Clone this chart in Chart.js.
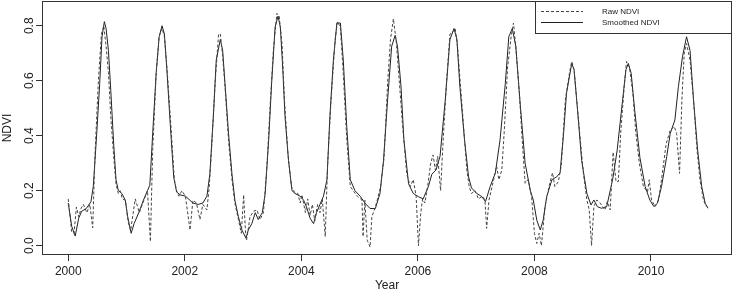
<!DOCTYPE html>
<html><head><meta charset="utf-8">
<script src="https://cdn.jsdelivr.net/npm/chart.js@4/dist/chart.umd.min.js"></script>
<style>html,body{margin:0;padding:0;background:#fff}#wrap{width:734px;height:293px}</style>
</head><body><div id="wrap"><canvas id="c" width="734" height="293"></canvas></div>
<script>
const seriesNames = ["Raw NDVI", "Smoothed NDVI"];
const xTickValues = [2000, 2002, 2004, 2006, 2008, 2010];
const yTickValues = [0.0, 0.2, 0.4, 0.6, 0.8];

const smoothT = [2000.00,2000.06,2000.12,2000.18,2000.23,2000.31,2000.39,2000.43,2000.49,2000.54,2000.58,2000.62,2000.65,2000.69,2000.73,2000.78,2000.82,2000.86,2000.92,2000.98,
2001.02,2001.08,2001.13,2001.21,2001.29,2001.36,2001.40,2001.45,2001.51,2001.56,2001.61,2001.65,2001.69,2001.75,2001.81,2001.86,2001.92,
2002.01,2002.09,2002.14,2002.23,2002.31,2002.38,2002.43,2002.49,2002.54,2002.61,2002.65,2002.69,2002.75,2002.81,2002.86,2002.92,2002.98,
2003.05,2003.09,2003.15,2003.21,2003.26,2003.33,2003.38,2003.44,2003.49,2003.55,2003.60,2003.64,2003.68,2003.72,2003.78,2003.84,2003.89,2003.98,
2004.04,2004.09,2004.15,2004.21,2004.26,2004.32,2004.38,2004.44,2004.49,2004.55,2004.61,2004.67,2004.72,2004.78,2004.84,2004.92,
2005.01,2005.09,2005.18,2005.27,2005.35,2005.41,2005.48,2005.55,2005.61,2005.65,2005.71,2005.76,2005.84,2005.92,
2006.01,2006.09,2006.18,2006.24,2006.31,2006.38,2006.47,2006.55,2006.62,2006.67,2006.72,2006.80,2006.87,2006.92,
2007.01,2007.10,2007.16,2007.24,2007.33,2007.41,2007.50,2007.56,2007.62,2007.68,2007.75,2007.84,2007.93,2007.98,
2008.04,2008.10,2008.15,2008.21,2008.30,2008.38,2008.44,2008.50,2008.55,2008.64,2008.68,2008.74,2008.81,2008.90,2008.97,
2009.02,2009.08,2009.15,2009.24,2009.30,2009.35,2009.42,2009.50,2009.57,2009.61,2009.66,2009.72,2009.81,2009.90,2009.98,
2010.05,2010.11,2010.18,2010.27,2010.33,2010.41,2010.47,2010.54,2010.61,2010.67,2010.73,2010.80,2010.87,2010.93,2010.98];
const smoothV = [0.155,0.07,0.035,0.10,0.125,0.135,0.16,0.215,0.41,0.59,0.76,0.815,0.79,0.71,0.565,0.37,0.24,0.20,0.19,0.165,
0.105,0.045,0.08,0.12,0.165,0.20,0.22,0.41,0.63,0.76,0.80,0.77,0.65,0.445,0.25,0.195,0.185,
0.18,0.165,0.155,0.15,0.155,0.18,0.26,0.47,0.675,0.75,0.71,0.59,0.41,0.26,0.165,0.105,0.057,
0.027,0.057,0.08,0.12,0.095,0.12,0.19,0.385,0.59,0.795,0.835,0.795,0.65,0.47,0.31,0.20,0.19,0.18,
0.165,0.14,0.10,0.08,0.12,0.15,0.18,0.24,0.47,0.675,0.81,0.81,0.675,0.43,0.24,0.20,
0.18,0.155,0.135,0.135,0.19,0.31,0.53,0.725,0.765,0.725,0.58,0.385,0.225,0.19,
0.178,0.17,0.215,0.26,0.275,0.325,0.53,0.75,0.79,0.75,0.58,0.385,0.25,0.21,
0.19,0.178,0.16,0.215,0.265,0.385,0.59,0.76,0.79,0.725,0.53,0.30,0.20,0.166,
0.093,0.057,0.093,0.178,0.24,0.25,0.265,0.408,0.554,0.663,0.64,0.493,0.31,0.19,0.148,
0.166,0.142,0.136,0.142,0.20,0.25,0.348,0.505,0.64,0.663,0.627,0.493,0.32,0.215,0.166,
0.142,0.154,0.215,0.324,0.408,0.457,0.578,0.687,0.76,0.71,0.53,0.348,0.215,0.154,0.136];

const rawT = [2000.00,2000.06,2000.10,2000.14,2000.18,2000.22,2000.26,2000.32,2000.37,2000.42,2000.46,2000.52,2000.57,2000.61,2000.65,2000.69,2000.73,2000.78,2000.82,2000.86,2000.89,2000.93,2000.98,
2001.03,2001.07,2001.15,2001.22,2001.28,2001.36,2001.41,2001.45,2001.51,2001.56,2001.61,2001.65,2001.70,2001.77,2001.82,2001.86,2001.90,2001.95,
2002.01,2002.09,2002.14,2002.20,2002.26,2002.31,2002.38,2002.42,2002.46,2002.52,2002.58,2002.61,2002.65,2002.69,2002.75,2002.81,2002.86,2002.92,2002.97,
2003.01,2003.04,2003.06,2003.12,2003.18,2003.24,2003.29,2003.35,2003.41,2003.47,2003.52,2003.58,2003.62,2003.67,2003.71,2003.77,2003.83,2003.88,2003.94,2003.98,
2004.01,2004.07,2004.11,2004.15,2004.19,2004.23,2004.28,2004.32,2004.36,2004.41,2004.45,2004.51,2004.58,2004.62,2004.67,2004.72,2004.78,2004.84,2004.89,2004.96,
2005.04,2005.06,2005.09,2005.13,2005.18,2005.21,2005.27,2005.32,2005.36,2005.42,2005.48,2005.53,2005.58,2005.63,2005.68,2005.74,2005.81,2005.87,2005.92,2005.97,
2006.01,2006.05,2006.08,2006.12,2006.17,2006.22,2006.26,2006.30,2006.34,2006.39,2006.43,2006.49,2006.55,2006.61,2006.64,2006.68,2006.75,2006.84,2006.88,2006.92,2006.98,
2007.04,2007.11,2007.15,2007.18,2007.22,2007.30,2007.35,2007.39,2007.44,2007.48,2007.54,2007.60,2007.64,2007.68,2007.74,2007.79,2007.84,2007.89,2007.95,
2008.00,2008.04,2008.08,2008.12,2008.18,2008.25,2008.31,2008.35,2008.41,2008.46,2008.53,2008.60,2008.64,2008.68,2008.75,2008.84,2008.90,2008.94,2008.98,
2009.02,2009.07,2009.13,2009.17,2009.21,2009.25,2009.30,2009.35,2009.40,2009.44,2009.48,2009.54,2009.58,2009.63,2009.69,2009.74,2009.80,2009.87,2009.94,2009.97,
2010.01,2010.07,2010.13,2010.18,2010.26,2010.33,2010.40,2010.44,2010.49,2010.53,2010.57,2010.61,2010.67,2010.73,2010.79,2010.84,2010.90,2010.95];
const rawV = [0.17,0.05,0.045,0.14,0.105,0.135,0.15,0.12,0.15,0.065,0.335,0.61,0.77,0.80,0.725,0.63,0.47,0.325,0.225,0.19,0.20,0.17,0.165,
0.085,0.055,0.17,0.12,0.155,0.20,0.015,0.35,0.63,0.76,0.79,0.76,0.63,0.41,0.24,0.20,0.18,0.20,
0.18,0.057,0.165,0.155,0.095,0.15,0.13,0.215,0.35,0.59,0.77,0.77,0.69,0.58,0.385,0.24,0.155,0.095,0.045,
0.185,0.057,0.02,0.105,0.125,0.13,0.095,0.12,0.29,0.53,0.71,0.845,0.835,0.73,0.53,0.335,0.215,0.195,0.19,0.155,
0.185,0.12,0.17,0.11,0.15,0.09,0.15,0.12,0.17,0.033,0.29,0.53,0.75,0.815,0.795,0.625,0.385,0.215,0.20,0.18,
0.166,0.033,0.166,0.02,-0.005,0.105,0.14,0.18,0.215,0.32,0.59,0.75,0.825,0.74,0.60,0.43,0.26,0.215,0.24,0.18,
0.0,0.12,0.17,0.155,0.22,0.30,0.33,0.275,0.325,0.20,0.37,0.59,0.77,0.78,0.79,0.725,0.53,0.275,0.215,0.19,0.20,
0.17,0.18,0.166,0.063,0.166,0.24,0.29,0.24,0.275,0.41,0.65,0.76,0.81,0.725,0.56,0.385,0.227,0.24,0.18,
0.045,0.008,0.045,0.0,0.14,0.215,0.265,0.215,0.233,0.29,0.53,0.627,0.67,0.64,0.47,0.263,0.166,0.13,0.0,
0.142,0.166,0.155,0.142,0.13,0.16,0.13,0.34,0.233,0.233,0.41,0.578,0.67,0.65,0.554,0.41,0.30,0.215,0.196,0.24,
0.166,0.142,0.166,0.24,0.37,0.42,0.433,0.408,0.263,0.53,0.70,0.735,0.675,0.53,0.348,0.24,0.166,0.142];

const FONT = '"Liberation Sans", Arial, Helvetica, sans-serif';
const AX = '#333';

const boxAndLegend = {
  id: 'boxAndLegend',
  afterDraw(chart) {
    const {ctx, chartArea: a} = chart;
    ctx.save();
    ctx.strokeStyle = AX; ctx.lineWidth = 1;
    ctx.strokeRect(Math.round(a.left) + 0.5, Math.round(a.top) + 0.5, Math.round(a.right - a.left) - 1, Math.round(a.bottom - a.top) - 1);
    // legend
    const lw = 197, lh = 32;
    const lx = Math.round(a.right) - lw, ly = Math.round(a.top);
    ctx.fillStyle = '#fff';
    ctx.fillRect(lx + 0.5, ly + 0.5, lw - 1, lh);
    ctx.strokeRect(lx + 0.5, ly + 0.5, lw - 1, lh);
    ctx.font = '8px ' + FONT;
    ctx.textBaseline = 'middle';
    ctx.textAlign = 'left';
    chart.data.datasets.forEach((ds, i) => {
      const yy = ly + 10.5 + i * 11;
      ctx.beginPath();
      ctx.strokeStyle = ds.borderColor;
      ctx.setLineDash(ds.borderDash || []);
      ctx.moveTo(lx + 6, yy); ctx.lineTo(lx + 48, yy);
      ctx.stroke();
      ctx.setLineDash([]);
      ctx.fillStyle = '#222';
      ctx.fillText(ds.label, lx + 67, yy + 0.5);
    });
    ctx.restore();
  }
};

new Chart(document.getElementById('c'), {
  type: 'line',
  data: {
    datasets: [
      { label: seriesNames[0], data: rawT.map((t, i) => ({x: t, y: rawV[i]})),
        borderColor: '#444', borderWidth: 1, borderDash: [3, 2], pointRadius: 0, tension: 0, fill: false },
      { label: seriesNames[1], data: smoothT.map((t, i) => ({x: t, y: smoothV[i]})),
        borderColor: '#222', borderWidth: 1, pointRadius: 0, tension: 0, fill: false }
    ]
  },
  options: {
    responsive: false, animation: false, devicePixelRatio: 1,
    layout: { padding: { left: 0, top: 1, right: 2, bottom: 0 } },
    plugins: { legend: { display: false }, tooltip: { enabled: false } },
    scales: {
      x: {
        type: 'linear', min: 1999.55, max: 2011.39,
        afterBuildTicks: s => { s.ticks = xTickValues.map(v => ({value: v})); },
        afterFit: s => { s.height = 38; s.paddingLeft = 0; s.paddingRight = 0; },
        grid: { drawOnChartArea: false, drawTicks: true, tickLength: 6, color: AX },
        border: { display: false },
        ticks: { font: { size: 12, family: FONT }, color: '#222', padding: 3, maxRotation: 0, callback: v => String(v) },
        title: { display: true, text: 'Year', font: { size: 12, family: FONT }, color: '#222', padding: { top: 0, bottom: 0 } }
      },
      y: {
        type: 'linear', min: -0.034, max: 0.89,
        afterBuildTicks: s => { s.ticks = yTickValues.map(v => ({value: v})); },
        afterFit: s => { s.width = 42; s.paddingTop = 0; s.paddingBottom = 0; },
        grid: { drawOnChartArea: false, drawTicks: true, tickLength: 6, color: AX },
        border: { display: false },
        ticks: { font: { size: 12, family: FONT }, color: '#222', padding: -2, minRotation: 90, maxRotation: 90, crossAlign: 'center', callback: v => v.toFixed(1) },
        title: { display: true, text: 'NDVI', font: { size: 12, family: FONT }, color: '#222', padding: { top: 0, bottom: 0 } }
      }
    }
  },
  plugins: [boxAndLegend]
});
</script></body></html>
